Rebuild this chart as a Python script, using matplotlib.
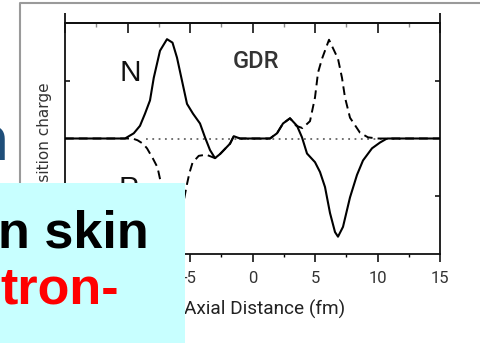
import matplotlib
matplotlib.use("Agg")
import matplotlib.pyplot as plt
from matplotlib.patches import Rectangle
from matplotlib.lines import Line2D

# Neutron (N) transition charge, solid line
n_x = [-15, -10.2, -9.5, -9.0, -8.6, -8.2, -7.9, -7.4, -6.84, -6.4, -6.04, -5.64,
       -5.24, -4.76, -4.2, -3.8, -3.4, -3.0, -2.6, -1.8, -1.5, -1.0, 1.4, 1.96,
       2.44, 3.0, 3.56, 3.96, 4.36, 5.0, 5.4, 5.8, 6.2, 6.6, 6.84, 7.24, 7.8,
       8.36, 8.84, 9.56, 10.2, 10.76, 15]
n_y = [0, 0, 0.09, 0.22, 0.43, 0.66, 1.05, 1.52, 1.72, 1.66, 1.40, 1.0,
       0.60, 0.43, 0.26, 0.02, -0.2, -0.34, -0.27, -0.09, 0.04, 0, 0, 0.09,
       0.26, 0.35, 0.22, 0.02, -0.26, -0.41, -0.58, -0.84, -1.29, -1.62, -1.70, -1.53, -1.02,
       -0.63, -0.38, -0.17, -0.07, 0, 0]

# Proton (P) transition charge, dashed line
p_x = [-15, -9.6, -9.2, -8.76, -8.44, -7.96, -7.6, -7.35, -7.0, -6.6, -6.3, -6.0,
       -5.6, -5.3, -5.05, -4.8, -4.3, -3.7, -3.0, -2.6, -1.8, -1.5, -1.0, 1.4,
       1.96, 2.44, 3.0, 3.5, 4.0, 4.6, 5.0, 5.24, 5.56, 6.12, 6.84, 7.16, 7.4,
       7.8, 8.6, 9.24, 10.0, 15]
p_y = [0, 0, -0.03, -0.09, -0.17, -0.35, -0.5, -0.75, -1.2, -1.6, -1.72, -1.6,
       -1.2, -0.85, -0.6, -0.42, -0.3, -0.28, -0.34, -0.27, -0.09, 0.04, 0, 0,
       0.09, 0.26, 0.35, 0.22, 0.18, 0.30, 0.71, 1.14, 1.38, 1.71, 1.38, 1.05, 0.71,
       0.36, 0.10, 0.02, 0, 0]

x_ticks = [-15, -10, -5, 0, 5, 10, 15]
x_tick_labels = ["", "", "-5", "0", "5", "10", "15"]   # the two leftmost sit under the caption box
x_minor = [-12.5, -7.5, -2.5, 2.5, 7.5, 12.5]
y_ticks = [-1, 1]

W, H = 481, 343
NARROW = ["Roboto", "DejaVu Sans"]


def fx(px):
    return px / W


def fy(py):
    return 1 - py / H


fig = plt.figure(figsize=(W / 100, H / 100), dpi=100)
fig.patch.set_facecolor("white")

ax = fig.add_axes([fx(65), fy(254), (440 - 65) / W, (254 - 23) / H])
ax.set_xlim(-15, 15)
ax.set_ylim(-2, 2)

# zero reference
ax.hlines(0, -8.5, 12, colors="#666666", linestyles=(0, (1, 2.5)), linewidth=1.3, zorder=1)
ax.plot(p_x, p_y, color="black", linewidth=1.4, dashes=(4.5, 2.6), zorder=2)
ax.plot(n_x, n_y, color="black", linewidth=1.5, zorder=3)

for s in ax.spines.values():
    s.set_linewidth(1.3)
    s.set_color("#111111")

ax.set_xticks(x_ticks)
ax.set_xticklabels(x_tick_labels, family=NARROW, fontsize=12, color="#333333")
ax.set_xticks(x_minor, minor=True)
ax.tick_params(axis="x", which="major", direction="out", length=5.5, width=1.1, pad=6.5)
ax.tick_params(axis="x", which="minor", direction="out", length=2.5, width=1.0)

ax.set_yticks(y_ticks)
ax.set_yticklabels([])
ax.tick_params(axis="y", direction="in", left=True, right=True, length=3.5, width=1.1)

top = ax.secondary_xaxis("top")
top.set_xticks(x_ticks)
top.set_xticklabels([])
top.set_xticks(x_minor, minor=True)
top.tick_params(axis="x", which="major", direction="in", length=7.5, width=1.1)
top.tick_params(axis="x", which="minor", direction="in", length=3, width=1.0, color="#888888")
top.spines["top"].set_linewidth(1.3)

# vertical frame lines rise a little above the top edge
for xe in (-15, 15):
    ax.plot([xe, xe], [2, 2.17], color="#111111", linewidth=1.3, clip_on=False,
            solid_capstyle="butt")

ax.set_xlabel("Axial Distance (fm)", family=NARROW, fontsize=13.7, color="#222222", va="center")
ax.xaxis.set_label_coords((265 - 65) / 375, (254 - 309) / 231)
ax.set_ylabel("transition charge", family="DejaVu Sans", fontsize=11, color="#333333",
              va="center", ha="center")
ax.yaxis.set_label_coords((45 - 65) / 375, (254 - 148) / 231)

ax.text(-10.6, 1.0, "N", family="Liberation Sans", fontsize=21.5, color="#111111",
        ha="left", va="baseline")
ax.text(-1.6, 1.22, "GDR", family=NARROW, fontsize=17, color="#333333", fontweight="medium",
        ha="left", va="baseline")
ax.text(-10.7, -1.02, "P", family="Liberation Sans", fontsize=21.5, color="#111111",
        ha="left", va="baseline")

# surrounding picture frame
fig.lines.append(Line2D([fx(20), fx(20), fx(490)], [fy(400), fy(3), fy(3)],
                        transform=fig.transFigure, color="#9a9a9a", linewidth=1.5, zorder=5))

# slide text around the chart
fig.text(fx(9), fy(160), "n", family="Lato", fontsize=45, color="#1F4E79",
         ha="right", va="baseline", zorder=6)
fig.patches.append(Rectangle((0, 0), fx(185), (H - 183) / H, transform=fig.transFigure,
                             facecolor="#C8FFFF", edgecolor="none", zorder=10))
fig.text(fx(-2), fy(247), "n skin", family="Liberation Sans", fontweight="bold",
         fontsize=37.5, color="black", ha="left", va="baseline", zorder=11)
fig.text(fx(0), fy(303), "tron-", family="Liberation Sans", fontweight="bold",
         fontsize=37.5, color="#FF0000", ha="left", va="baseline", zorder=11)

fig.savefig("out.png", dpi=100)
